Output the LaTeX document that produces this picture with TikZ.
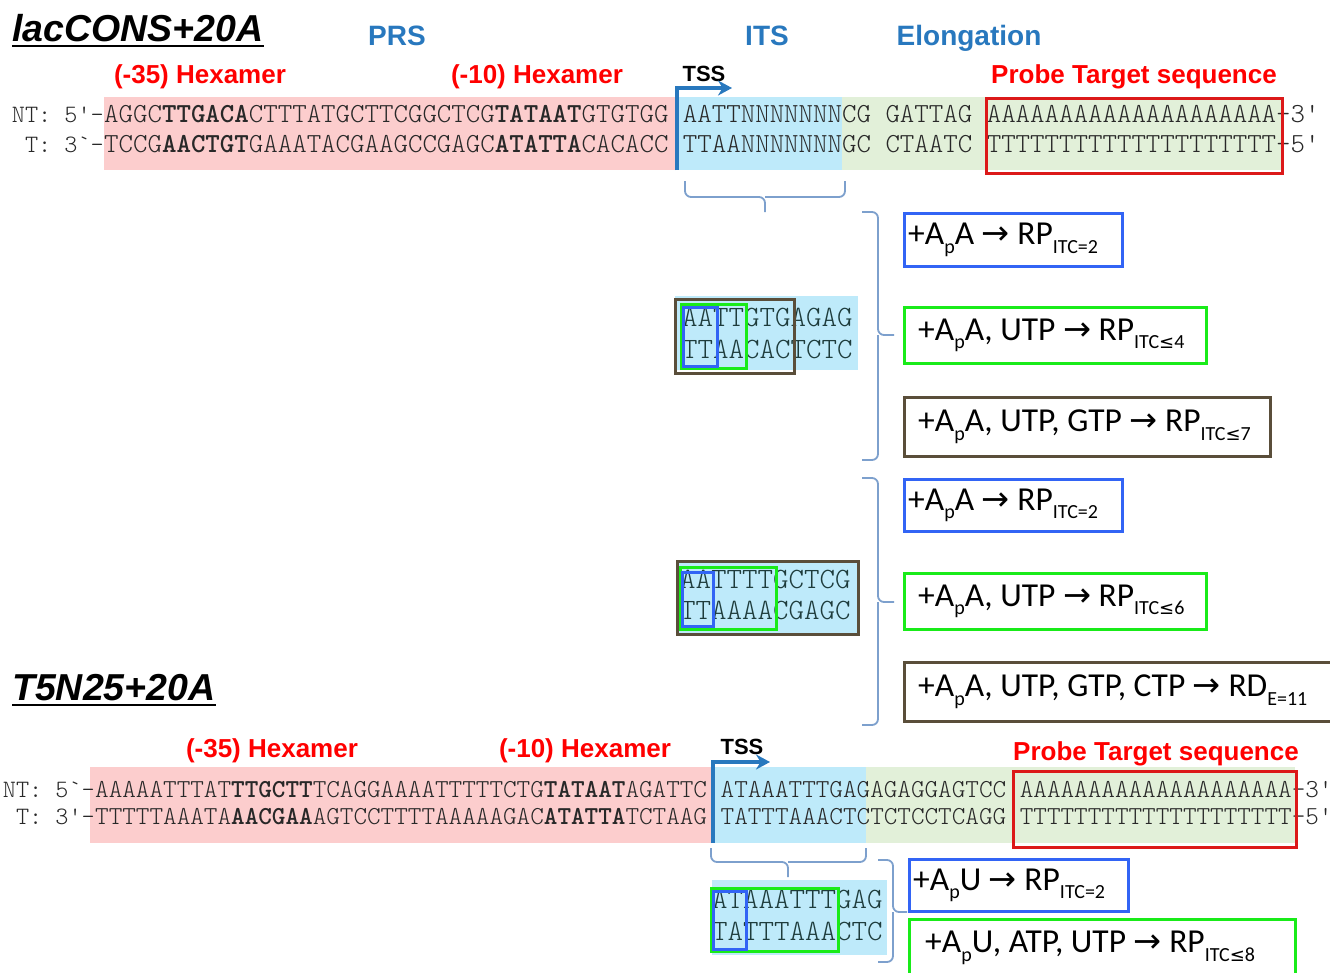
\documentclass[tikz,border=0pt]{standalone}
\usepackage{fontspec}
\setmainfont{Liberation Sans}
\newfontfamily\seqf{lmmonolt10-regular}[Extension=.otf, BoldFont=lmmonolt10-bold]
\newfontfamily\calf{Carlito}
\newfontfamily\djv{DejaVu Sans}
\usetikzlibrary{arrows.meta}
\definecolor{pinkf}{RGB}{252,205,205}
\definecolor{bluef}{RGB}{190,234,250}
\definecolor{greenf}{RGB}{226,240,217}
\definecolor{redb}{RGB}{220,25,25}
\definecolor{blueb}{RGB}{50,100,245}
\definecolor{greenb}{RGB}{25,235,25}
\definecolor{brownb}{RGB}{90,78,58}
\definecolor{hdrblue}{RGB}{40,120,190}
\definecolor{bracec}{RGB}{125,160,205}
\definecolor{seqc}{RGB}{40,40,40}
\definecolor{seqits}{RGB}{30,60,60}
\newcommand\sbs[1]{\raisebox{-0.25em}{\fontsize{20}{20}\selectfont #1}}
\newcommand\arr{{\djv →}}
\newcommand\lesym{{\djv\fontsize{18}{18}\selectfont ≤}}
\begin{document}
\begin{tikzpicture}[x=1pt,y=-1pt,
  seq/.style={font=\seqf\fontsize{27.56}{28}\selectfont, inner sep=0, text=seqc, anchor=base west},
  seqb/.style={font=\seqf\fontsize{25.9}{26}\selectfont, inner sep=0, text=seqc, anchor=base west},
  seqs/.style={font=\seqf\fontsize{29.5}{30}\selectfont, inner sep=0, text=seqits, anchor=base west},
  pre/.style={font=\seqf\fontsize{25}{25}\selectfont, inner sep=0, text=seqc, anchor=base east},
  hex/.style={font=\bfseries\fontsize{26}{26}\selectfont, text=red, inner sep=0, anchor=base},
  hdr/.style={font=\bfseries\fontsize{28}{28}\selectfont, text=hdrblue, inner sep=0, anchor=base},
  tss/.style={font=\bfseries\fontsize{22}{22}\selectfont, inner sep=0, anchor=base},
  ttl/.style={font=\bfseries\itshape\fontsize{37.5}{38}\selectfont, inner sep=0, anchor=base west},
  region/.style={anchor=north west, inner sep=0, draw=none},
  rxn/.style={line width=2.5pt, anchor=north west, inner sep=0, fill=white},
  selbox/.style={line width=2.5pt, anchor=north west, inner sep=0},
  rtxt/.style={font=\calf\fontsize{33.5}{36}\selectfont, anchor=west, inner sep=0},
  bracep/.style={draw=bracec, line width=1.8pt, rounded corners=6pt},
  tssarr/.style={draw=hdrblue, line width=3.5pt, -{Stealth[length=14pt,width=15pt]}},
]
\useasboundingbox (0,0) rectangle (1330,972);
\fill[white] (0,0) rectangle (1330,972);

% ---------- top construct ----------
\node[ttl] (t1) at (12,41) {lacCONS+20A};
\draw[line width=2.8pt] ([yshift=-5pt]t1.base west) -- ([yshift=-5pt]t1.base east);
\node[hdr] (prs) at (397,45) {PRS};
\node[hdr] (its) at (767,45) {ITS};
\node[hdr] (elo) at (969,45) {Elongation};
\node[hex] (h35a) at (200,83) {(-35) Hexamer};
\node[hex] (h10a) at (537,83) {(-10) Hexamer};
\node[hex] (pta) at (1134,83) {Probe Target sequence};
\node[tss] (tssa) at (704,81) {TSS};

\node[region, fill=pinkf, minimum width=571, minimum height=73] (pa) at (104,97) {};
\node[region, fill=bluef, minimum width=167, minimum height=73] (ba) at (675,97) {};
\node[region, fill=greenf, minimum width=439, minimum height=73] (ga) at (842,97) {};

\node[pre] (nta) at (104,122) {NT: 5'-};
\node[pre] (tta) at (104,152) {T: 3`-};
\node[seq] (s1a) at (104,122) {AGGC\textbf{TTGACA}CTTTATGCTTCGGCTCG\textbf{TATAAT}GTGTGG AATTNNNNNNNCG GATTAG AAAAAAAAAAAAAAAAAAAA-3'};
\node[seq] (s1b) at (104,152) {TCCG\textbf{AACTGT}GAAATACGAAGCCGAGC\textbf{ATATTA}CACACC TTAANNNNNNNGC CTAATC TTTTTTTTTTTTTTTTTTTT-5'};
\node[selbox, draw=redb, line width=3pt, minimum width=296, minimum height=75] (pra) at (985,97) {};

\coordinate (tssa0) at (677,170);
\coordinate (tssa1) at (732,88);
\draw[tssarr] (tssa0) |- (tssa1);

% brace under ITS
\coordinate (bra1) at (685,181);
\coordinate (bra2) at (845,181);
\coordinate (brat) at (765,212);
\draw[bracep] (bra1) |- (765,197) -- (brat);
\draw[bracep] (bra2) |- (765,197);

% group 1 small sequence
\node[region, fill=bluef, minimum width=183, minimum height=74] (g1f) at (675,296) {};
\node[seqs] (g1a) at (682,326) {AATTGTGAGAG};
\node[seqs] (g1b) at (682,358) {TTAACACTCTC};
\node[selbox, draw=brownb, minimum width=119, minimum height=74] (g1k) at (674,298) {};
\node[selbox, draw=greenb, minimum width=65, minimum height=64] (g1g) at (680,303) {};
\node[selbox, draw=blueb, minimum width=34, minimum height=59] (g1u) at (682,306) {};

% brace group 1
\coordinate (v1a) at (862,212);
\coordinate (v1b) at (862,460);
\coordinate (v1t) at (894,335);
\draw[bracep] (v1a) -| (878,335) -- (v1t);
\draw[bracep] (v1b) -| (878,335);

\node[rxn, draw=blueb, minimum width=218, minimum height=53] (r1) at (903,212) {};
\node[rtxt] (r1t) at ([xshift=5]r1.west) {+A\sbs{p}A \arr{} RP\sbs{ITC=2}};
\node[rxn, draw=greenb, minimum width=302, minimum height=56] (r2) at (903,306) {};
\node[rtxt] (r2t) at ([xshift=15]r2.west) {+A\sbs{p}A, UTP \arr{} RP\sbs{ITC\lesym4}};
\node[rxn, draw=brownb, minimum width=366, minimum height=59] (r3) at (903,396) {};
\node[rtxt] (r3t) at ([xshift=15]r3.west) {+A\sbs{p}A, UTP, GTP \arr{} RP\sbs{ITC\lesym7}};

% group 2 small sequence
\node[region, fill=bluef, minimum width=181, minimum height=73] (g2f) at (676,560) {};
\node[seqs] (g2a) at (680,588) {AATTTTGCTCG};
\node[seqs] (g2b) at (680,619) {TTAAAACGAGC};
\node[selbox, draw=brownb, minimum width=181, minimum height=73] (g2k) at (676,560) {};
\node[selbox, draw=greenb, minimum width=96, minimum height=62] (g2g) at (679,566) {};
\node[selbox, draw=blueb, minimum width=31, minimum height=54] (g2u) at (681,571) {};

% brace group 2
\coordinate (v2a) at (862,478);
\coordinate (v2b) at (862,725);
\coordinate (v2t) at (894,602);
\draw[bracep] (v2a) -| (878,602) -- (v2t);
\draw[bracep] (v2b) -| (878,602);

\node[rxn, draw=blueb, minimum width=218, minimum height=52] (r4) at (903,478) {};
\node[rtxt] (r4t) at ([xshift=5]r4.west) {+A\sbs{p}A \arr{} RP\sbs{ITC=2}};
\node[rxn, draw=greenb, minimum width=302, minimum height=56] (r5) at (903,572) {};
\node[rtxt] (r5t) at ([xshift=15]r5.west) {+A\sbs{p}A, UTP \arr{} RP\sbs{ITC\lesym6}};
\node[rxn, draw=brownb, minimum width=440, minimum height=59] (r6) at (903,661) {};
\node[rtxt] (r6t) at ([xshift=15]r6.west) {+A\sbs{p}A, UTP, GTP, CTP \arr{} RD\sbs{E=11}};

% ---------- bottom construct ----------
\node[ttl] (t2) at (12,700) {T5N25+20A};
\draw[line width=2.8pt] ([yshift=-5pt]t2.base west) -- ([yshift=-5pt]t2.base east);
\node[hex] (h35b) at (272,757) {(-35) Hexamer};
\node[hex] (h10b) at (585,757) {(-10) Hexamer};
\node[hex] (ptb) at (1156,760) {Probe Target sequence};
\node[tss] (tssb) at (742,754) {TSS};

\node[region, fill=pinkf, minimum width=623, minimum height=76] (pb) at (90,767) {};
\node[region, fill=bluef, minimum width=153, minimum height=76] (bb) at (713,767) {};
\node[region, fill=greenf, minimum width=429, minimum height=76] (gb) at (866,767) {};

\node[pre] (ntb) at (95,797) {NT: 5`-};
\node[pre] (ttb) at (95,824) {T: 3'-};
\node[seqb] (s2a) at (95,797) {AAAAATTTAT\textbf{TTGCTT}TCAGGAAAATTTTTCTG\textbf{TATAAT}AGATTC ATAAATTTGAGAGAGGAGTCC AAAAAAAAAAAAAAAAAAAA-3'};
\node[seqb] (s2b) at (95,824) {TTTTTAAATA\textbf{AACGAA}AGTCCTTTTAAAAAGAC\textbf{ATATTA}TCTAAG TATTTAAACTCTCTCCTCAGG TTTTTTTTTTTTTTTTTTTT-5'};
\node[selbox, draw=redb, line width=3pt, minimum width=283, minimum height=76] (prb) at (1012,770) {};

\coordinate (tssb0) at (713,843);
\coordinate (tssb1) at (770,762);
\draw[tssarr] (tssb0) |- (tssb1);

% brace under bottom ITS
\coordinate (brb1) at (711,848);
\coordinate (brb2) at (866,848);
\coordinate (brbt) at (788,877);
\draw[bracep] (brb1) |- (788,862) -- (brbt);
\draw[bracep] (brb2) |- (788,862);

% bottom small sequence
\node[region, fill=bluef, minimum width=175, minimum height=75] (g3f) at (712,880) {};
\node[seqs] (g3a) at (712,908) {ATAAATTTGAG};
\node[seqs] (g3b) at (712,940) {TATTTAAACTC};
\node[selbox, draw=greenb, minimum width=127, minimum height=63] (g3g) at (710,887) {};
\node[selbox, draw=blueb, minimum width=33, minimum height=58] (g3u) at (712,890) {};

% brace bottom
\coordinate (v3a) at (878,860);
\coordinate (v3b) at (878,962);
\coordinate (v3t) at (907,912);
\draw[bracep] (v3a) -| (893,912) -- (v3t);
\draw[bracep] (v3b) -| (893,912);

\node[rxn, draw=blueb, minimum width=219, minimum height=52] (r7) at (908,858) {};
\node[rtxt] (r7t) at ([xshift=5]r7.west) {+A\sbs{p}U \arr{} RP\sbs{ITC=2}};
\node[rxn, draw=greenb, minimum width=386, minimum height=57] (r8) at (908,918) {};
\node[rtxt] (r8t) at ([xshift=17]r8.west) {+A\sbs{p}U, ATP, UTP \arr{} RP\sbs{ITC\lesym8}};
\end{tikzpicture}
\end{document}
